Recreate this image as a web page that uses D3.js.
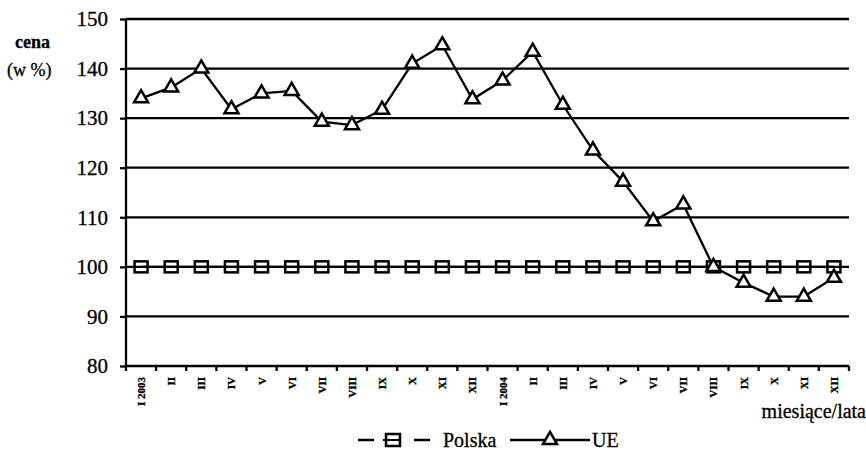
<!DOCTYPE html>
<html>
<head>
<meta charset="utf-8">
<script src="https://cdn.jsdelivr.net/npm/d3@7/dist/d3.min.js"></script>
<style>
  body { margin: 0; background: #fff; }
  svg text { font-family: "Liberation Serif", "Times New Roman", serif; fill: #000; stroke: #000; stroke-width: 0.3px; }
</style>
</head>
<body>
<svg id="chart" width="866" height="451"></svg>
<script>
// months I 2003 .. XII 2004
var months = ['I 2003', 'II', 'III', 'IV', 'V', 'VI', 'VII', 'VIII', 'IX', 'X', 'XI', 'XII',
  'I 2004', 'II', 'III', 'IV', 'V', 'VI', 'VII', 'VIII', 'IX', 'X', 'XI', 'XII'];

var polska = [100, 100, 100, 100, 100, 100, 100, 100, 100, 100, 100, 100,
  100, 100, 100, 100, 100, 100, 100, 100, 100, 100, 100, 100];

var ue = [134, 136.2, 140, 131.8, 135, 135.5, 129.3, 128.6, 131.7, 141, 144.7, 133.8,
  137.6, 143.4, 132.7, 123.5, 117.2, 109.2, 112.6, 100, 96.8, 94, 94, 97.8];

var yTicks = [80, 90, 100, 110, 120, 130, 140, 150];

var svg = d3.select('#chart');

var x = d3.scaleBand()
  .domain(d3.range(months.length))
  .range([126, 849]);

var y = d3.scaleLinear()
  .domain([80, 150])
  .range([366, 19]);

var cx = function (d, i) { return x(i) + x.bandwidth() / 2; };

// horizontal grid lines
svg.append('g')
  .selectAll('line')
  .data(yTicks.slice(1))
  .enter()
  .append('line')
  .attr('x1', 126)
  .attr('x2', 849)
  .attr('y1', function (d) { return y(d); })
  .attr('y2', function (d) { return y(d); })
  .attr('stroke', '#000')
  .attr('stroke-width', 2.3);

// y axis
var yAxis = svg.append('g')
  .attr('transform', 'translate(126,0)')
  .call(d3.axisLeft(y).tickValues(yTicks).tickSize(6).tickPadding(12));
yAxis.select('.domain').attr('stroke-width', 2.3).attr('d', 'M0,' + y(80) + 'V' + y(150));
yAxis.selectAll('.tick line').attr('stroke-width', 2.3);
yAxis.selectAll('.tick text')
  .style('font-family', '"Liberation Serif", serif')
  .style('font-size', '21px');

// x axis, ticks on category boundaries
var xAxis = svg.append('g')
  .attr('transform', 'translate(0,' + y(80) + ')');
xAxis.append('line')
  .attr('x1', 126).attr('x2', 849)
  .attr('stroke', '#000').attr('stroke-width', 2.3);
xAxis.selectAll('line.tk')
  .data(d3.range(months.length + 1))
  .enter()
  .append('line')
  .attr('class', 'tk')
  .attr('x1', function (d) { return 126 + d * x.step(); })
  .attr('x2', function (d) { return 126 + d * x.step(); })
  .attr('y1', 0).attr('y2', 5)
  .attr('stroke', '#000').attr('stroke-width', 2.3);
xAxis.selectAll('text')
  .data(months)
  .enter()
  .append('text')
  .attr('transform', function (d, i) { return 'translate(' + (cx(d, i) + 4) + ',11) rotate(-90)'; })
  .attr('text-anchor', 'end')
  .style('font-size', '11px')
  .style('font-weight', 'bold')
  .text(function (d) { return d; });

// axis titles
svg.append('text').attr('x', 15).attr('y', 48)
  .style('font-size', '18px').style('font-weight', 'bold').text('cena');
svg.append('text').attr('x', 7).attr('y', 76)
  .style('font-size', '18px').text('(w %)');
svg.append('text').attr('x', 866).attr('y', 418).attr('text-anchor', 'end')
  .style('font-size', '20px').text('miesiące/lata');

var line = d3.line()
  .x(function (d, i) { return cx(d, i); })
  .y(function (d) { return y(d); });

// Polska
svg.append('path')
  .attr('d', line(polska))
  .attr('fill', 'none')
  .attr('stroke', '#000')
  .attr('stroke-width', 2.3);
svg.append('g')
  .selectAll('rect')
  .data(polska)
  .enter()
  .append('rect')
  .attr('x', function (d, i) { return cx(d, i) - 6.5; })
  .attr('y', function (d) { return y(d) - 5.5; })
  .attr('width', 13)
  .attr('height', 11)
  .attr('fill', 'none')
  .attr('stroke', '#000')
  .attr('stroke-width', 2.5);

// UE
var tri = d3.symbol().type(d3.symbolTriangle).size(85);
svg.append('path')
  .attr('d', line(ue))
  .attr('fill', 'none')
  .attr('stroke', '#000')
  .attr('stroke-width', 2.3);
svg.append('g')
  .selectAll('path')
  .data(ue)
  .enter()
  .append('path')
  .attr('d', tri)
  .attr('transform', function (d, i) { return 'translate(' + cx(d, i) + ',' + y(d) + ')'; })
  .attr('fill', '#fff')
  .attr('stroke', '#000')
  .attr('stroke-width', 2.5);

// legend
var lg = svg.append('g').attr('transform', 'translate(0,440)');
lg.append('line').attr('x1', 358).attr('x2', 374).attr('stroke', '#000').attr('stroke-width', 2.5);
lg.append('line').attr('x1', 414).attr('x2', 430).attr('stroke', '#000').attr('stroke-width', 2.5);
lg.append('rect').attr('x', 386).attr('y', -6).attr('width', 14).attr('height', 12)
  .attr('fill', 'none').attr('stroke', '#000').attr('stroke-width', 2.5);
lg.append('line').attr('x1', 383).attr('x2', 400).attr('stroke', '#000').attr('stroke-width', 2);
lg.append('text').attr('x', 443).attr('y', 7).style('font-size', '20px').text('Polska');
lg.append('line').attr('x1', 510).attr('x2', 590).attr('stroke', '#000').attr('stroke-width', 2.3);
lg.append('path').attr('d', tri).attr('transform', 'translate(550,0)')
  .attr('fill', '#fff').attr('stroke', '#000').attr('stroke-width', 2.5);
lg.append('text').attr('x', 592).attr('y', 7).style('font-size', '20px').text('UE');
</script>
</body>
</html>
